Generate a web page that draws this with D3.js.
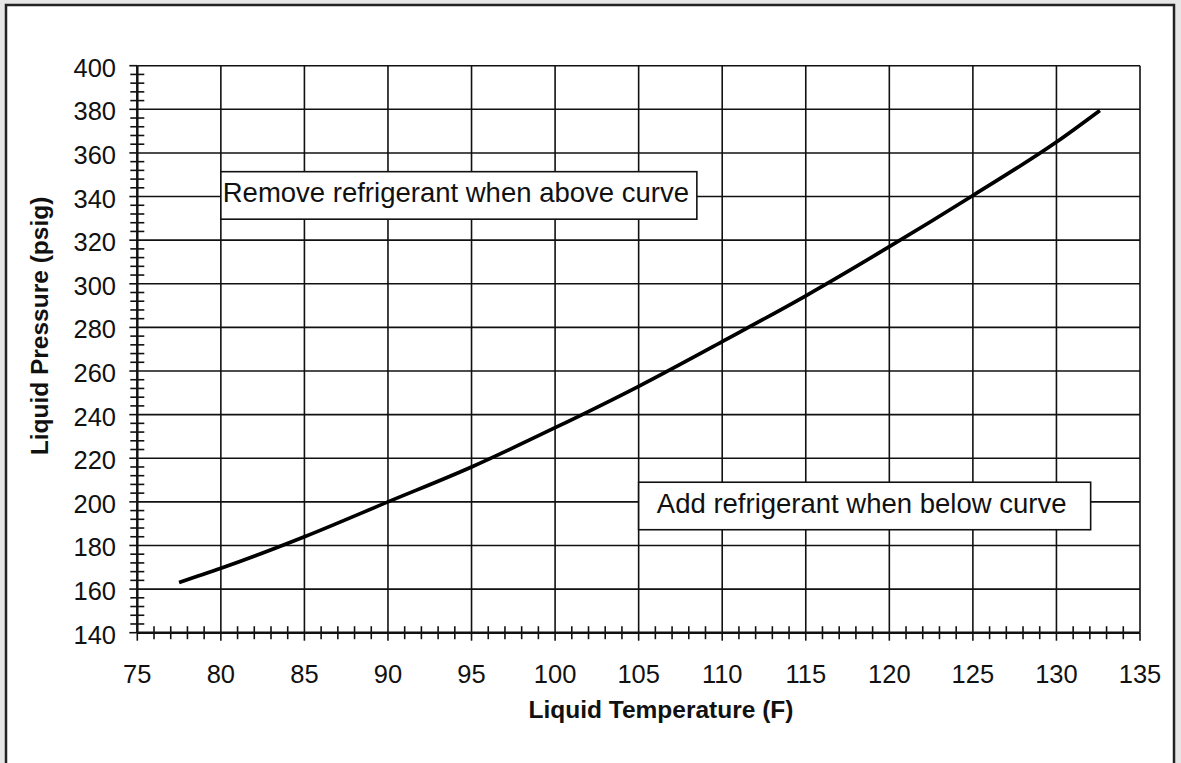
<!DOCTYPE html>
<html>
<head>
<meta charset="utf-8">
<script src="https://cdn.jsdelivr.net/npm/d3@7"></script>
<style>
  html, body { margin: 0; padding: 0; background: #e6e6e6; }
  svg { display: block; }
</style>
</head>
<body>
<svg id="chart" width="1181" height="763"></svg>
<script>
// ---- data ----
const temperatures = [77.5, 80, 85, 90, 95, 100, 105, 110, 115, 120, 125, 130, 132.6];
const pressures    = [163, 169.5, 184, 200, 216, 234, 253, 273.5, 294.5, 317, 340.5, 365, 379.5];
const xTickValues = [75, 80, 85, 90, 95, 100, 105, 110, 115, 120, 125, 130, 135];
const yTickValues = [140, 160, 180, 200, 220, 240, 260, 280, 300, 320, 340, 360, 380, 400];
const xTitle = "Liquid Temperature (F)";
const yTitle = "Liquid Pressure (psig)";
const noteTexts = ["Remove refrigerant when above curve", "Add refrigerant when below curve"];
const noteTemps = [80, 105];
const notePressures = [351.4, 209];

(function () {
const svg = d3.select("#chart");
svg.append("rect").attr("x", 6).attr("y", 5).attr("width", 1168).attr("height", 820)
  .attr("fill", "#fff").attr("stroke", "#222").attr("stroke-width", 2.5);

const pLeft = 137.3, pRight = 1140, pTop = 65.7, pBottom = 632.7;
const x = d3.scaleLinear().domain([75, 135]).range([pLeft, pRight]);
const y = d3.scaleLinear().domain([140, 400]).range([pBottom, pTop]);

const font = "'Liberation Sans', Arial, sans-serif";
const g = svg.append("g");

// grid
g.selectAll(".vg").data(xTickValues.slice(1)).join("line")
  .attr("x1", d => x(d)).attr("x2", d => x(d)).attr("y1", pTop).attr("y2", pBottom)
  .attr("stroke", "#111").attr("stroke-width", 1.6);
g.selectAll(".hg").data(yTickValues.slice(1)).join("line")
  .attr("x1", pLeft).attr("x2", pRight).attr("y1", d => y(d)).attr("y2", d => y(d))
  .attr("stroke", "#111").attr("stroke-width", 1.6);

// minor ticks
const xMinor = d3.range(75, 135.01, 1);
g.selectAll(".xm").data(xMinor).join("line")
  .attr("x1", d => x(d)).attr("x2", d => x(d))
  .attr("y1", d => d % 5 === 0 ? pBottom : pBottom - 6.5)
  .attr("y2", d => pBottom + (d % 5 === 0 ? 8 : 6.5))
  .attr("stroke", "#111").attr("stroke-width", 1.6);
const yMinor = d3.range(140, 400.01, 4);
g.selectAll(".ym").data(yMinor).join("line")
  .attr("y1", d => y(d)).attr("y2", d => y(d))
  .attr("x1", d => (d - 140) % 20 === 0 ? pLeft - 8 : pLeft - 7)
  .attr("x2", d => (d - 140) % 20 === 0 ? pLeft : pLeft + 7)
  .attr("stroke", "#111").attr("stroke-width", 1.6);

// axis lines
g.append("line").attr("x1", pLeft).attr("x2", pRight).attr("y1", pBottom).attr("y2", pBottom)
  .attr("stroke", "#111").attr("stroke-width", 2.5);
g.append("line").attr("x1", pLeft).attr("x2", pLeft).attr("y1", pTop).attr("y2", pBottom)
  .attr("stroke", "#111").attr("stroke-width", 2.5);

// tick labels
g.selectAll(".xl").data(xTickValues).join("text")
  .attr("x", d => x(d)).attr("y", 683)
  .attr("text-anchor", "middle").attr("font-family", font).attr("font-size", 25.5)
  .attr("fill", "#111").text(d => d);
g.selectAll(".yl").data(yTickValues).join("text")
  .attr("x", 116).attr("y", d => y(d) + 11)
  .attr("text-anchor", "end").attr("font-family", font).attr("font-size", 25.5)
  .attr("fill", "#111").text(d => d);

// titles
g.append("text").attr("x", 661).attr("y", 718).attr("text-anchor", "middle")
  .attr("font-family", font).attr("font-size", 24.5).attr("font-weight", "bold")
  .attr("fill", "#111").text(xTitle);
g.append("text").attr("transform", "translate(48,326) rotate(-90)")
  .attr("text-anchor", "middle")
  .attr("font-family", font).attr("font-size", 24.5).attr("font-weight", "bold")
  .attr("fill", "#111").text(yTitle);

// curve
const pts = temperatures.map((t, i) => [t, pressures[i]]);
g.append("path").datum(pts)
  .attr("d", d3.line().x(d => x(d[0])).y(d => y(d[1])).curve(d3.curveMonotoneX))
  .attr("fill", "none").attr("stroke", "#000").attr("stroke-width", 3.7);

// annotation boxes
const boxW = [476, 452];
noteTexts.forEach((txt, i) => {
  const bx = x(noteTemps[i]), by = y(notePressures[i]);
  const grp = g.append("g");
  grp.append("rect").attr("x", bx).attr("y", by)
    .attr("width", boxW[i]).attr("height", 47.5)
    .attr("fill", "#fff").attr("stroke", "#111").attr("stroke-width", 1.6);
  grp.append("text").attr("x", bx + boxW[i] / 2 - 3).attr("y", by + 30.5)
    .attr("text-anchor", "middle")
    .attr("font-family", font).attr("font-size", 27.5).attr("fill", "#111").text(txt);
});
})();
</script>
</body>
</html>
